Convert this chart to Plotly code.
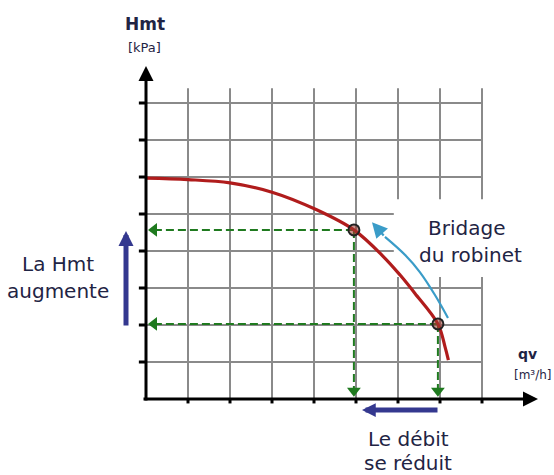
import plotly.graph_objects as go

# ---- data ----
q_curve = [0.0, 1.0, 2.0, 3.0, 4.05, 4.95, 5.65, 6.05, 6.4, 6.95, 7.12, 7.2]
h_curve = [5.97, 5.93, 5.84, 5.59, 5.12, 4.57, 3.85, 3.35, 2.86, 2.03, 1.41, 1.05]
op_q = [4.95, 6.95]          # operating points (débit)
op_h = [4.57, 2.03]          # operating points (Hmt)
teal_q = [7.19, 6.88, 6.52, 6.17, 5.69]
teal_h = [2.19, 2.81, 3.43, 3.89, 4.38]
teal_tip = (5.38, 4.78)
grid_q = [1, 2, 3, 4, 5, 6, 7, 8]
grid_h = [1, 2, 3, 4, 5, 6, 7, 8]

W, H = 554, 475
X0, Y0, DX, DY = 146, 399, 42.0, 37.0   # pixel origin and unit sizes


def px(x):
    return (x - X0) / DX


def py(y):
    return (Y0 - y) / DY


GRID = "#8a8a8a"
GREEN = "#1f7a1f"
NAVY = "#34388f"
TEAL = "#3a9cc8"
RED = "#b01c1c"
TXT = "#1f2444"
FONT = "DejaVu Sans"

fig = go.Figure()

shapes = []
for g in grid_q:
    shapes.append(dict(type="line", x0=g, x1=g, y0=0, y1=8.4, layer="below",
                       line=dict(color=GRID, width=2)))
for g in grid_h:
    shapes.append(dict(type="line", x0=0, x1=8, y0=g, y1=g, layer="below",
                       line=dict(color=GRID, width=2)))
# white area behind "Bridage du robinet"
shapes.append(dict(type="rect", x0=5.9, x1=9.8, y0=3.3, y1=5.4, layer="below",
                   fillcolor="white", line=dict(width=0)))
# ticks
for g in grid_h:
    shapes.append(dict(type="line", x0=-0.17, x1=0, y0=g, y1=g,
                       line=dict(color="black", width=3)))
for g in grid_q:
    shapes.append(dict(type="line", x0=g, x1=g, y0=0, y1=-0.12,
                       line=dict(color="black", width=3)))

# green dashed projection lines
for qv, hv in zip(op_q, op_h):
    fig.add_trace(go.Scatter(x=[qv, 0.25], y=[hv, hv], mode="lines",
                             line=dict(color=GREEN, width=2, dash="8px,4px"),
                             hoverinfo="skip", showlegend=False))
    fig.add_trace(go.Scatter(x=[qv, qv], y=[hv, 0.25], mode="lines",
                             line=dict(color=GREEN, width=2, dash="8px,4px"),
                             hoverinfo="skip", showlegend=False))
# green arrow heads
fig.add_trace(go.Scatter(x=[0.19] * len(op_h), y=op_h, mode="markers",
                         marker=dict(symbol="triangle-left", size=12, color=GREEN),
                         hoverinfo="skip", showlegend=False))
fig.add_trace(go.Scatter(x=op_q, y=[0.22] * len(op_q), mode="markers",
                         marker=dict(symbol="triangle-down", size=12, color=GREEN),
                         hoverinfo="skip", showlegend=False))

# teal arrow body
fig.add_trace(go.Scatter(x=teal_q, y=teal_h, mode="lines", line_shape="spline",
                         line=dict(color=TEAL, width=2.2),
                         hoverinfo="skip", showlegend=False))

# pump curve
fig.add_trace(go.Scatter(x=q_curve, y=h_curve, mode="lines", line_shape="spline",
                         line=dict(color=RED, width=3.2),
                         hoverinfo="skip", showlegend=False))
# operating points
fig.add_trace(go.Scatter(x=op_q, y=op_h, mode="markers",
                         marker=dict(size=11, color="rgba(160,60,50,0.55)",
                                     line=dict(color="#222", width=2)),
                         hoverinfo="skip", showlegend=False))

ann = []
# axes with arrows
ann.append(dict(x=0, y=py(66), ax=0, ay=py(402), xref="x", yref="y", axref="x", ayref="y",
                showarrow=True, arrowhead=2, arrowsize=1, arrowwidth=3, arrowcolor="black", text=""))
ann.append(dict(x=px(538), y=0, ax=px(142), ay=0, xref="x", yref="y", axref="x", ayref="y",
                showarrow=True, arrowhead=2, arrowsize=1, arrowwidth=3, arrowcolor="black", text=""))
# teal head
ann.append(dict(x=teal_tip[0], y=teal_tip[1], ax=teal_q[-1], ay=teal_h[-1],
                xref="x", yref="y", axref="x", ayref="y", showarrow=True,
                arrowhead=2, arrowsize=1.4, arrowwidth=2.2, arrowcolor=TEAL, text=""))
# navy arrows
ann.append(dict(x=px(126), y=py(231), ax=px(126), ay=py(327), xref="x", yref="y",
                axref="x", ayref="y", showarrow=True, arrowhead=2, arrowsize=0.6,
                arrowwidth=5, arrowcolor=NAVY, text=""))
ann.append(dict(x=px(362), y=py(410), ax=px(439), ay=py(410), xref="x", yref="y",
                axref="x", ayref="y", showarrow=True, arrowhead=2, arrowsize=0.55,
                arrowwidth=5, arrowcolor=NAVY, text=""))


def label(text, x, y, size, bold=False):
    ann.append(dict(x=px(x), y=py(y), xref="x", yref="y", showarrow=False,
                    text=("<b>%s</b>" % text) if bold else text,
                    font=dict(family=FONT, size=size, color=TXT),
                    xanchor="center", yanchor="middle"))


label("Hmt", 145, 24, 17, bold=True)
label("[kPa]", 144, 47, 13)
label("qv", 527, 354, 14, bold=True)
label("[m³/h]", 533, 375, 12)
label("Bridage", 466, 228, 20)
label("du robinet", 470, 255, 20)
label("La Hmt", 58, 264, 20)
label("augmente", 58, 291, 20)
label("Le débit", 408, 439, 20)
label("se réduit", 408, 463, 20)

fig.update_layout(
    width=W, height=H, margin=dict(l=0, r=0, t=0, b=0),
    paper_bgcolor="white", plot_bgcolor="white",
    xaxis=dict(range=[px(0), px(W)], visible=False, fixedrange=True),
    yaxis=dict(range=[py(H), py(0)], visible=False, fixedrange=True),
    shapes=shapes, annotations=ann, showlegend=False,
)

fig.write_html("out.html", config={"displayModeBar": False},
               post_script="document.body.style.margin='0';document.body.style.overflow='hidden';")
